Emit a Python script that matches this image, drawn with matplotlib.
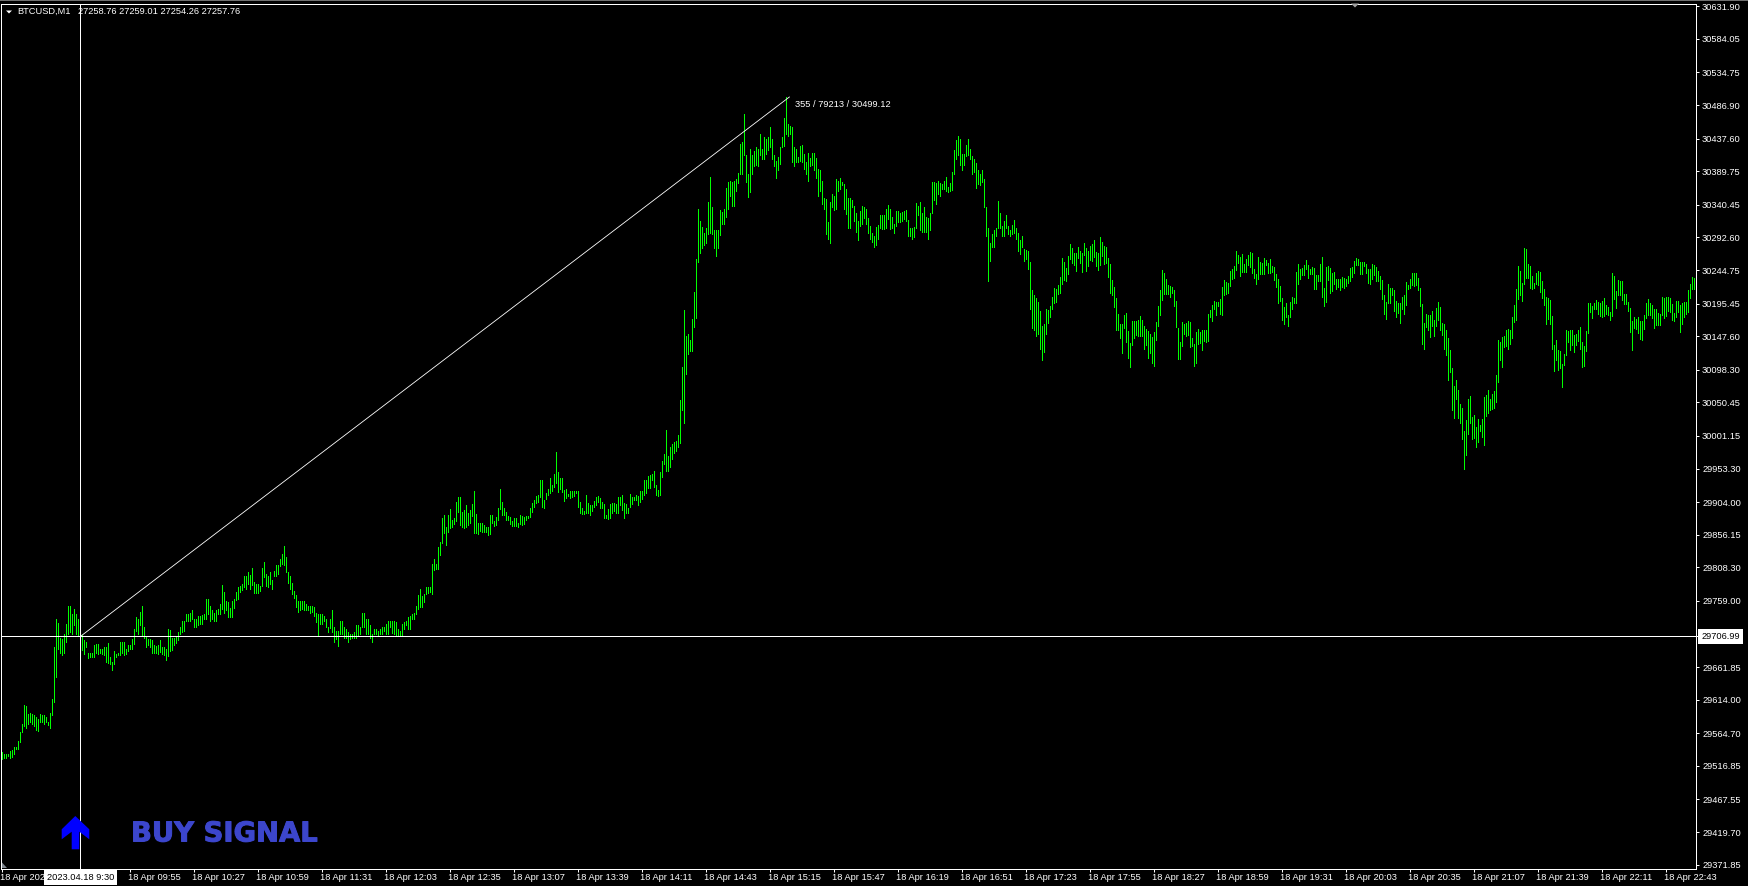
import numpy as np
import matplotlib
matplotlib.use("Agg")
import matplotlib.pyplot as plt
import matplotlib.patheffects as pe
from matplotlib.patches import Polygon, Rectangle
from matplotlib.transforms import IdentityTransform, ScaledTranslation

# High, low pairs of each one-minute bar
session_1 = [29537,29527,29534,29528,29534,29529,29534,29531,29539,29529,29540,29530,29544,29534,29544,29542,29554,29542,29566,29552,
29578,29566,29606,29576,29605,29573,29593,29578,29595,29581,29593,29578,29591,29576,29588,29569,29586,29568,29593,29581,
29591,29581,29591,29578,29588,29581,29581,29577,29594,29572,29615,29591,29692,29611,29733,29647,29727,29689,29705,29683,
29703,29680,29710,29683,29725,29698,29751,29710,29751,29713,29740,29710,29747,29724,29740,29710,29733,29709,29712,29708,
29709,29687,29701,29681,29698,29692,29683,29675,29683,29676,29683,29676,29694,29677,29696,29683,29696,29681,29689,29682,
29688,29681,29691,29679,29691,29669,29697,29668,29676,29666,29669,29657,29686,29666,29681,29676,29683,29679,29698,29680,
29698,29683,29698,29679,29688,29681,29694,29686,29694,29688,29703,29689,29718,29696,29735,29715,29732,29710,29743,29723,
29751,29707,29720,29705,29708,29692,29703,29694,29703,29692,29701,29683,29694,29682,29693,29683,29694,29681,29701,29684,
29692,29681,29692,29679,29688,29673,29718,29678,29717,29686,29705,29687,29705,29694,29707,29697,29713,29701,29720,29710,
29729,29713,29730,29715,29740,29729,29740,29730,29741,29730,29746,29733,29732,29720,29732,29720,29737,29723,29737,29725,
29738,29725,29740,29732,29762,29732,29762,29740,29752,29730,29745,29732,29742,29729,29745,29730,29747,29740,29754,29740,
29782,29747,29772,29742,29759,29745,29758,29736,29748,29736,29759,29736,29762,29748,29772,29761,29780,29762,29781,29772,
29784,29775,29795,29779,29795,29776,29801,29784,29797,29776,29807,29782,29787,29770,29784,29770,29784,29771,29781,29773,
29807,29781,29816,29794,29798,29781,29796,29779,29801,29784,29789,29776,29803,29796,29811,29796,29812,29798,29820,29810,
29828,29813,29840,29812,29823,29801,29801,29786,29796,29776,29786,29769,29774,29763,29767,29750,29759,29743,29759,29746,
29759,29747,29759,29745,29754,29745,29752,29745,29751,29742,29751,29743,29750,29737,29742,29728,29740,29709,29740,29725,
29740,29725,29737,29730,29732,29720,29720,29713,29732,29719,29745,29713,29720,29698,29715,29703,29715,29693,29730,29710,
29730,29710,29720,29705,29718,29705,29713,29698,29710,29703,29710,29705,29713,29705,29723,29705,29723,29708,29720,29710,
29742,29720,29742,29720,29732,29710,29732,29710,29723,29705,29710,29699,29718,29710,29718,29710,29715,29708,29718,29710,
29720,29710,29720,29715,29725,29710,29730,29710,29730,29720,29730,29712,29730,29710,29728,29709,29718,29708,29715,29707,
29725,29708,29728,29718,29730,29723,29735,29718,29737,29718,29740,29732,29742,29732,29752,29740,29767,29747,29777,29750,
29766,29750,29769,29757,29779,29769,29779,29770,29779,29772,29813,29769,
29821,29805,29813,29806,29838,29806,29845,29826,29881,29844,29885,29859,29867,29841,29885,29860]
session_2 = [29894,29866,29878,29868,29880,29872,29904,29877,29911,29889,29911,29870,29890,29868,29892,29866,29900,29868,29888,29870,
29892,29873,29901,29883,29920,29858,29887,29859,29874,29857,29874,29861,29874,29860,29870,29860,29868,29860,29867,29856,
29885,29857,29885,29874,29877,29869,29882,29871,29896,29878,29924,29894,29904,29885,29896,29885,29890,29878,29883,29878,
29882,29872,29877,29869,29881,29869,29881,29869,29874,29867,29885,29872,29883,29871,29882,29872,29883,29878,29884,29881,
29895,29882,29903,29890,29907,29897,29913,29903,29914,29904,29937,29911,29937,29897,29907,29895,29918,29909,29923,29914,
29939,29917,29929,29920,29946,29926,29977,29932,29948,29919,29940,29923,29939,29919,29922,29906,29923,29910,29916,29913,
29920,29910,29920,29911,29920,29913,29920,29917,29920,29897,29904,29888,29896,29887,29891,29887,29914,29888,29903,29888,
29900,29885,29900,29891,29906,29897,29912,29900,29913,29904,29910,29895,29904,29896,29901,29881,29885,29881,29894,29879,
29901,29881,29903,29888,29903,29891,29901,29888,29912,29888,29912,29900,29914,29892,29903,29881,29901,29888,29895,29888,
29916,29897,29912,29901,29912,29907,29914,29907,29913,29900,29920,29904,29920,29909,29936,29914,29936,29917,29942,29925,
29944,29925,29945,29936,29950,29926,29929,29914,29922,29913,29948,29914,29964,29941,29975,29960,30010,29950,29972,29950,
29985,29956,29989,29967,29992,29976,29994,29979,30003,29985,30054,29991]
session_3 = [30102,30039,30186,30020,30148,30092,30151,30122,30142,30126,30173,30126,30212,30161,30261,30175,30335,30257,30317,30270,
30308,30277,30299,30282,30307,30285,30344,30298,30381,30299,30337,30298,30303,30277,30303,30266,30304,30277,30333,30296,
30330,30312,30334,30312,30365,30322,30374,30335,30375,30354,30374,30339,30375,30339,30378,30361,30387,30373,30430,30386,
30432,30386,30474,30413,30414,30374,30386,30352,30422,30359,30414,30386,30420,30397,30426,30399,30422,30398,30444,30413,
30423,30408,30440,30408,30437,30415,30440,30421,30454,30425,30437,30407,30414,30398,30405,30380,30410,30391,30425,30400,
30440,30425,30468,30427,30499,30444,30459,30442,30456,30444,30455,30404,30425,30397,30422,30403,30410,30403,30427,30405,
30428,30404,30415,30393,30403,30386,30417,30376,30409,30398,30417,30399,30417,30392,30409,30380,30393,30353,30392,30361,
30376,30342,30350,30335,30349,30298,30315,30290,30344,30284,30356,30337,30353,30333,30378,30334,30376,30361,30380,30364,
30374,30369,30371,30334,30364,30327,30350,30307,30350,30307,30347,30337,30339,30317,30328,30300,30317,30289,30331,30310,
30339,30312,30338,30321,30334,30312,30321,30299,30309,30290,30299,30286,30295,30279,30308,30281,30311,30291,30325,30306,
30325,30305,30325,30305,30335,30306,30340,30319,30335,30305,30322,30307,30312,30299,30331,30309,30332,30315,30329,30315,
30330,30317,30332,30319,30333,30317,30318,30294,30306,30294,30307,30290,30308,30293,30343,30307,30339,30326,30344,30303,
30329,30300,30338,30301,30322,30301,30321,30290,30329,30303,30374,30329,30374,30347,30373,30342,30376,30356,30373,30354,
30371,30364,30376,30363,30381,30361,30366,30359]
session_4 = [30373,30361,30389,30362,30421,30386,30436,30408,30441,30413,30437,30399,30415,30392,30415,30399,30428,30412,30437,30413,
30422,30407,30412,30385,30408,30389,30402,30365,30391,30371,30386,30369,30391,30374,30379,30338,30338,30295,30306,30229,
30285,30258,30298,30278,30304,30279,30307,30295,30346,30306,30329,30306,30309,30295,30316,30295,30326,30306,30309,30297,
30304,30295,30311,30297,30318,30299,30306,30290,30299,30273,30289,30269,30295,30279,30276,30258,30274,30261,30273,30246,
30256,30188,30215,30160,30208,30156,30204,30148,30198,30151,30185,30129,30163,30113,30165,30125,30188,30151,30186,30167,
30192,30176,30205,30188,30218,30196,30217,30198,30223,30209,30235,30211,30262,30224,30257,30230,30248,30229,30265,30239,
30283,30261,30277,30255,30270,30252,30270,30243,30279,30262,30273,30255,30270,30242,30284,30267,30277,30243,30273,30251,
30280,30259,30283,30258,30289,30264,30271,30251,30270,30245]
session_5 = [30293,30252,30286,30265,30280,30254,30279,30255,30262,30235,30254,30211,30230,30208,30220,30190,30204,30157,30180,30157,
30166,30145,30166,30123,30179,30160,30182,30139,30155,30116,30138,30102,30170,30135,30170,30145,30170,30149,30171,30148,
30177,30148,30171,30148,30163,30129,30158,30135,30155,30116,30151,30123,30146,30108,30154,30104,30168,30142,30192,30163,
30215,30179,30245,30201,30240,30210,30232,30210,30223,30210,30221,30205,30220,30211,30215,30192,30199,30161,30160,30114,
30139,30114,30168,30133,30166,30151,30167,30148,30170,30149,30168,30132,30145,30133,30136,30104,30154,30108,30158,30136,
30154,30138,30157,30127,30157,30141,30157,30139,30180,30141,30186,30176,30193,30170,30199,30188,30198,30179,30198,30192,
30202,30180,30220,30179,30230,30208,30227,30210,30226,30211,30243,30221,30246,30232,30251,30233,30273,30245,30267,30255,
30264,30236,30268,30242,30254,30242,30261,30242,30267,30252]
session_6 = [30271,30249,30270,30240,30246,30233,30239,30224,30264,30232,30257,30239,30255,30239,30262,30239,30259,30252,30255,30240,
30261,30240,30251,30242,30249,30230,30239,30220,30232,30196,30221,30199,30204,30171,30190,30166,30196,30176,30179,30163,
30198,30176,30205,30188,30204,30196,30242,30196,30254,30224,30246,30232,30248,30237,30252,30237,30259,30246,30252,30233,
30246,30239,30249,30239,30248,30217,30237,30217,30237,30229,30254,30229,30264,30205,30218,30192,30249,30198,30251,30230,
30248,30211,30240,30214,30242,30224,30232,30217,30232,30220,30232,30215,30235,30220,30233,30218,30232,30221,30236,30226,
30248,30229,30249,30235,30258,30240,30262,30252,30261,30252,30257,30239,30257,30239,30257,30251,30254,30240,30246,30226,
30246,30224,30254,30232,30252,30237,30249,30229,30243,30229,30236,30217,30230,30202,30208,30180,30198,30173,30224,30196,
30218,30196,30218,30208,30215,30185,30199,30176,30196,30182]
session_7 = [30196,30167,30205,30188,30208,30180,30227,30193,30223,30217,30232,30218,30240,30223,30240,30221,30240,30223,30233,30215,
30218,30192,30195,30136,30167,30129,30180,30161,30179,30157,30179,30146,30185,30163,30171,30148,30189,30163,30198,30171,
30190,30157,30167,30149,30166,30129,30157,30120,30145,30083,30127,30095,30101,30039,30075,30028,30083,30055,30069,30028,
30048,30020,30042,29997,30008,29953,30025,29973,30055,30004,30060,30020,30029,29997,30032,29998,30014,29985,30026,29992,
30017,30008,30026,30000,30058,29988,30061,30030,30069,30035,30055,30039,30063,30041,30067,30042,30091,30051,30142,30080,
30139,30113,30146,30102,30148,30132,30157,30133,30158,30129,30157,30136,30176,30145,30193,30168,30217,30171,30251,30202,
30243,30208,30226,30199,30277,30224,30276,30233,30254,30233,30251,30218,30236,30217,30226,30218,30240,30224,30243,30223,
30242,30213,30229,30204,30217,30193,30205,30166,30204,30173]
session_8 = [30201,30166,30177,30129,30135,30097,30142,30113,30127,30098,30126,30101,30107,30073,30122,30105,30157,30120,30155,30139,
30157,30127,30157,30135,30149,30124,30151,30135,30157,30141,30161,30129,30139,30102,30133,30104,30155,30126,30196,30152,
30196,30183,30192,30174,30196,30188,30201,30188,30198,30180,30196,30177,30199,30176,30204,30177,30193,30180,30190,30179,
30183,30171,30240,30177,30236,30202,30214,30189,30230,30208,30229,30208,30229,30201,30210,30195,30210,30195,30198,30185,
30189,30154,30170,30127,30176,30160,30173,30158,30176,30152,30170,30143,30170,30142,30179,30158,30196,30174,30202,30179,
30196,30179,30193,30174,30188,30160,30188,30164,30182,30164,30180,30164,30205,30179,30204,30174,30205,30177,30205,30185,
30204,30183,30195,30171,30182,30170,30199,30176,30199,30183,30193,30154,30196,30166,30198,30176,30198,30180,30215,30183,
30224,30204,30234,30217,30233,30217]

price_ticks = [30631.90,30584.05,30534.75,30486.90,30437.60,30389.75,30340.45,30292.60,30244.75,30195.45,30147.60,
               30098.30,30050.45,30001.15,29953.30,29904.00,29856.15,29808.30,29759.00,29661.85,29614.00,29564.70,
               29516.85,29467.55,29419.70,29371.85]
time_labels = ["18 Apr 2023","18 Apr 09:23","18 Apr 09:55","18 Apr 10:27","18 Apr 10:59","18 Apr 11:31","18 Apr 12:03",
               "18 Apr 12:35","18 Apr 13:07","18 Apr 13:39","18 Apr 14:11","18 Apr 14:43","18 Apr 15:15","18 Apr 15:47",
               "18 Apr 16:19","18 Apr 16:51","18 Apr 17:23","18 Apr 17:55","18 Apr 18:27","18 Apr 18:59","18 Apr 19:31",
               "18 Apr 20:03","18 Apr 20:35","18 Apr 21:07","18 Apr 21:39","18 Apr 22:11","18 Apr 22:43"]
bars_per_label = 32
cross_bar = 39
cross_price = 29706.99
peak_bar = 393.6
peak_price = 30499.12
ruler_text = "355 / 79213 / 30499.12"

W, H = 1749, 886
FONT = "Liberation Sans"
fig = plt.figure(figsize=(W/100, H/100), dpi=100, facecolor="black")
ax = fig.add_axes([1.5/W, 1-868.5/H, 1695/W, 865/H], facecolor="black")

pairs = np.array(session_1+session_2+session_3+session_4+session_5+session_6+session_7+session_8, dtype=float).reshape(-1, 2)
idx = np.arange(len(pairs))
ax.vlines(idx, pairs[:, 1], pairs[:, 0], colors="#00ff00", linewidth=0.72, antialiased=False, zorder=2)
ax.set_xlim(-0.5, 847)
ax.set_ylim(29366.2, 30636.0)

for s in ax.spines.values():
    s.set_color("white"); s.set_linewidth(0.72)
ax.yaxis.tick_right()
ax.set_yticks(price_ticks + [cross_price])
ax.set_yticklabels([f"{v:.2f}" for v in price_ticks] + [""], family=FONT, fontsize=6.7, color="white")
ax.set_xticks(np.arange(len(time_labels)) * bars_per_label)
ax.set_xticklabels(time_labels, family=FONT, fontsize=6.7, color="white", ha="left")
ax.tick_params(axis="y", direction="out", length=2.2, width=0.72, color="white", pad=1.8)
ax.tick_params(axis="x", direction="out", length=2.2, width=0.72, color="white", pad=1.3)
for tick in ax.xaxis.get_major_ticks():
    lab = tick.label1
    lab.set_transform(lab.get_transform() + ScaledTranslation(-0.02, 0, fig.dpi_scale_trans))

ax.axhline(cross_price, color="white", lw=0.72, antialiased=False, zorder=3)
ax.axvline(cross_bar, color="white", lw=0.72, antialiased=False, zorder=3)
ax.plot([cross_bar, peak_bar], [cross_price, peak_price], color="white", lw=0.6, antialiased=True,
        solid_capstyle="butt", zorder=3)
ax.annotate(ruler_text, xy=(peak_bar, peak_price), xytext=(3.5, -5.9),
            textcoords="offset points", color="white", fontsize=6.7, family=FONT, va="center", ha="left")

# white value boxes on both axes
ax.annotate(f"{cross_price:.2f}", xy=(1, cross_price), xycoords=("axes fraction", "data"), xytext=(5, 0),
            textcoords="offset pixels", color="black", fontsize=6.7, family=FONT, va="center", ha="left",
            annotation_clip=False, zorder=6,
            bbox=dict(fc="white", ec="none", boxstyle="square,pad=0.35"))
ax.annotate("2023.04.18 9:30", xy=(cross_bar, 0), xycoords=("data", "axes fraction"), xytext=(0, -8.5),
            textcoords="offset pixels", color="black", fontsize=6.7, family=FONT, va="center", ha="center",
            annotation_clip=False, zorder=6,
            bbox=dict(fc="white", ec="none", boxstyle="square,pad=0.35"))

def px(x, y):
    return (x, H - y)

fig.text(17/W, 1-11.5/H, "BTCUSD,M1", color="white", fontsize=6.7, family=FONT, va="center", ha="left")
fig.text(78/W, 1-11.5/H, "27258.76 27259.01 27254.26 27257.76", color="white", fontsize=6.7, family=FONT, va="center", ha="left")
fig.text(131/W, 1-834.5/H, "BUY SIGNAL", color="#3c46cc", fontsize=19.75, family="DejaVu Sans", weight="bold",
         va="center", ha="left", zorder=7,
         path_effects=[pe.withStroke(linewidth=0.7, foreground="#3c46cc")])

shapes = [
    ([(75.3,816),(89.3,829.3),(89.3,839.3),(79.3,831.7),(79.3,849.3),(71.7,849.3),(71.7,831.7),(61.7,839.3),(61.7,829.3)], "#0000ff"),
    ([(6,10.5),(12,10.5),(9,13.5)], "white"),
    ([(1351,3.5),(1359,3.5),(1355,7.5)], "#a0a0a0"),
    ([(2,862.5),(7,868),(2,868)], "#808890"),
]
for pts, col in shapes:
    fig.add_artist(Polygon([px(*p) for p in pts], closed=True, fc=col, ec="none", transform=IdentityTransform(), zorder=8))
fig.add_artist(Rectangle(px(0, 1), W, 1, fc="#707070", ec="none", transform=IdentityTransform(), zorder=8))

fig.savefig("out.png", dpi=100, facecolor="black")
